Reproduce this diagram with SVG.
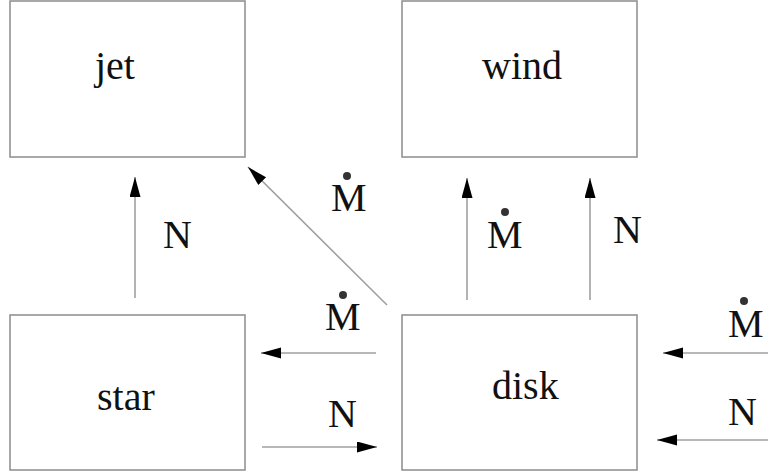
<svg xmlns="http://www.w3.org/2000/svg" width="768" height="476" viewBox="0 0 768 476">
<defs>
<style>
.box{fill:#fff;stroke:#8c8c8c;stroke-width:1.5}
.lbl{font-family:"Liberation Serif","Times New Roman",Times,serif;font-size:40px;fill:#111}
.conn{stroke:#a0a0a0;stroke-width:1.6;fill:none;marker-end:url(#ah)}
.dot{fill:#333}
</style>
<marker id="ah" markerUnits="userSpaceOnUse" markerWidth="22" markerHeight="12" refX="20" refY="5.5" orient="auto">
<path d="M0,0 L20,5.5 L0,11 z" fill="#000"/>
</marker>
</defs>
<rect width="768" height="476" fill="#fff"/>
<g id="jet"><rect class="box" x="10" y="1" width="235" height="156"/><text class="lbl" x="95" y="79" font-family="Liberation Serif">jet</text></g>
<g id="wind"><rect class="box" x="402" y="1" width="235" height="156"/><text class="lbl" x="482" y="79" font-family="Liberation Serif">wind</text></g>
<g id="star"><rect class="box" x="10" y="315" width="235" height="155"/><text class="lbl" x="97" y="410" font-family="Liberation Serif">star</text></g>
<g id="disk"><rect class="box" x="402" y="315" width="235" height="155"/><text class="lbl" x="492" y="399" font-family="Liberation Serif">disk</text></g>
<g id="connectors">
<line class="conn" x1="135" y1="298" x2="135" y2="177"/>
<line class="conn" x1="387" y1="305" x2="248" y2="167"/>
<line class="conn" x1="467" y1="300" x2="467" y2="178"/>
<line class="conn" x1="590" y1="300" x2="590" y2="178"/>
<line class="conn" x1="376" y1="353" x2="261" y2="353"/>
<line class="conn" x1="262" y1="447" x2="377" y2="447"/>
<line class="conn" x1="768" y1="353" x2="663" y2="353"/>
<line class="conn" x1="768" y1="440" x2="657" y2="440"/>
</g>
<g id="labels">
<text class="lbl" x="163" y="248" font-family="Liberation Serif">N</text>
<text class="lbl" x="331" y="211" font-family="Liberation Serif">M</text><circle class="dot" cx="347" cy="176" r="4"/>
<text class="lbl" x="487" y="248" font-family="Liberation Serif">M</text><circle class="dot" cx="505" cy="212" r="4"/>
<text class="lbl" x="613" y="243" font-family="Liberation Serif">N</text>
<text class="lbl" x="325" y="330" font-family="Liberation Serif">M</text><circle class="dot" cx="343" cy="295" r="4"/>
<text class="lbl" x="328" y="427" font-family="Liberation Serif">N</text>
<text class="lbl" x="728" y="337" font-family="Liberation Serif">M</text><circle class="dot" cx="744" cy="301" r="4"/>
<text class="lbl" x="728" y="425" font-family="Liberation Serif">N</text>
</g>
</svg>
